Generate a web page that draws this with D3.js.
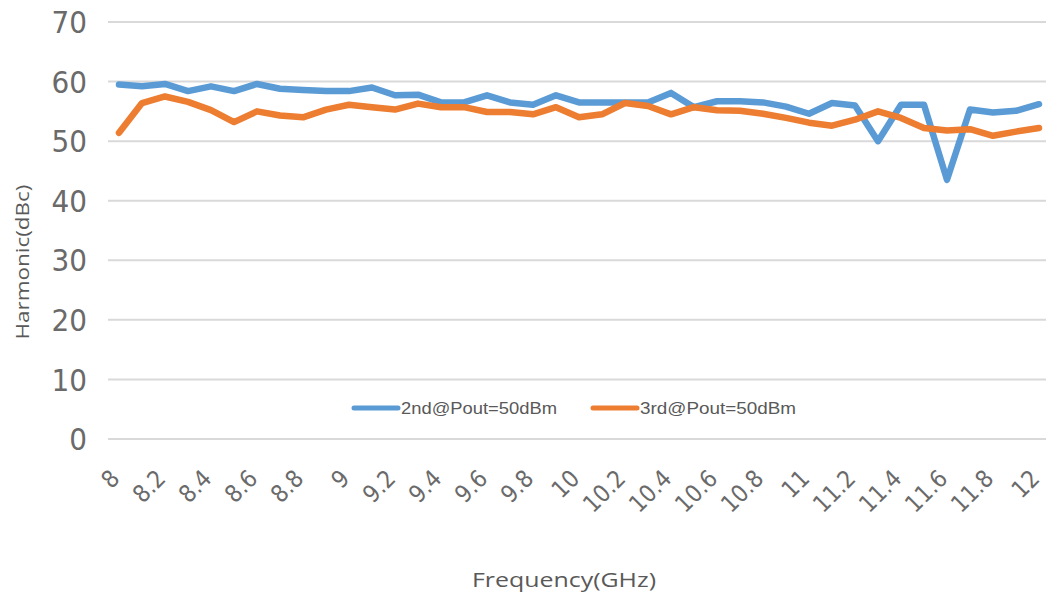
<!DOCTYPE html>
<html><head><meta charset="utf-8">
<script src="https://cdn.jsdelivr.net/npm/d3@7"></script>
<style>body{margin:0;background:#fff}</style>
</head><body><svg id="c" width="1048" height="598"></svg>
<script>
const freqs = [8,8.1,8.2,8.3,8.4,8.5,8.6,8.7,8.8,8.9,9,9.1,9.2,9.3,9.4,9.5,9.6,9.7,9.8,9.9,10,10.1,10.2,10.3,10.4,10.5,10.6,10.7,10.8,10.9,11,11.1,11.2,11.3,11.4,11.5,11.6,11.7,11.8,11.9,12];
const second = [59.5,59.2,59.6,58.4,59.2,58.4,59.6,58.8,58.6,58.4,58.4,59.0,57.7,57.8,56.5,56.5,57.7,56.5,56.1,57.7,56.5,56.5,56.5,56.5,58.1,55.7,56.7,56.7,56.5,55.8,54.6,56.4,56.0,50.0,56.1,56.1,43.5,55.3,54.8,55.1,56.2];
const third = [51.4,56.4,57.5,56.6,55.2,53.2,55.0,54.3,54.0,55.3,56.1,55.7,55.3,56.3,55.7,55.7,54.9,54.9,54.5,55.7,54.0,54.5,56.4,55.9,54.5,55.7,55.2,55.1,54.6,53.9,53.1,52.6,53.6,55.0,53.9,52.2,51.8,52.0,50.9,51.6,52.2];
const yTicks = [0,10,20,30,40,50,60,70];
const xTickLabels = ["8","8.2","8.4","8.6","8.8","9","9.2","9.4","9.6","9.8","10","10.2","10.4","10.6","10.8","11","11.2","11.4","11.6","11.8","12"];
const seriesNames = ["2nd@Pout=50dBm","3rd@Pout=50dBm"];
const colors = ["#5B9BD5","#ED7D31"];

const svg = d3.select("#c");
const x = d3.scaleLinear().domain([8,12]).range([119,1039]);
const y = d3.scaleLinear().domain([0,70]).range([439,22]);
const narrow = "'Liberation Sans Narrow', 'DejaVu Sans Condensed', sans-serif";
const font = "'Liberation Sans', Arial, sans-serif";

// grid
svg.append("g").selectAll("line").data(yTicks).join("line")
  .attr("x1",108).attr("x2",1046)
  .attr("y1",d=>y(d)).attr("y2",d=>y(d))
  .attr("stroke","#d9d9d9").attr("stroke-width",2);

// y labels
svg.append("g").selectAll("text").data(yTicks).join("text")
  .attr("x",87).attr("y",d=>y(d)).attr("dy","0.36em")
  .attr("text-anchor","end").attr("font-family",narrow)
  .attr("font-size",31).attr("fill","#6a6a6a")
  .text(d=>d);

// x labels
svg.append("g").selectAll("text").data(xTickLabels).join("text")
  .attr("transform",d=>`translate(${x(+d)+2},480) rotate(-45)`)
  .attr("text-anchor","end")
  .attr("font-family",narrow).attr("font-size",24).attr("fill","#6a6a6a")
  .text(d=>d);

// lines
const line = d3.line().x((d,i)=>x(freqs[i])).y(d=>y(d));
[second,third].forEach((s,k)=>{
  svg.append("path").datum(s).attr("d",line)
    .attr("fill","none").attr("stroke",colors[k]).attr("stroke-width",6.5)
    .attr("stroke-linejoin","round").attr("stroke-linecap","round");
});

// legend
const legX = [354,593];
seriesNames.forEach((n,k)=>{
  svg.append("line").attr("x1",legX[k]).attr("x2",legX[k]+44).attr("y1",408).attr("y2",408)
    .attr("stroke",colors[k]).attr("stroke-width",5).attr("stroke-linecap","round");
  svg.append("text").attr("x",legX[k]+47).attr("y",408).attr("dy","0.36em")
    .attr("font-family",font).attr("font-size",17).attr("fill","#595959")
    .attr("textLength",156).attr("lengthAdjust","spacingAndGlyphs").text(n);
});

// axis titles
svg.append("text").attr("transform","translate(29,262) rotate(-90)")
  .attr("text-anchor","middle").attr("font-family","'Open Sans', sans-serif").attr("font-size",19).attr("fill","#595959")
  .attr("textLength",155).attr("lengthAdjust","spacingAndGlyphs")
  .text("Harmonic(dBc)");
svg.append("text").attr("x",564).attr("y",587)
  .attr("text-anchor","middle").attr("font-family","'Open Sans', sans-serif").attr("font-size",20).attr("fill","#595959")
  .attr("textLength",184).attr("lengthAdjust","spacingAndGlyphs")
  .text("Frequency(GHz)");
</script></body></html>
